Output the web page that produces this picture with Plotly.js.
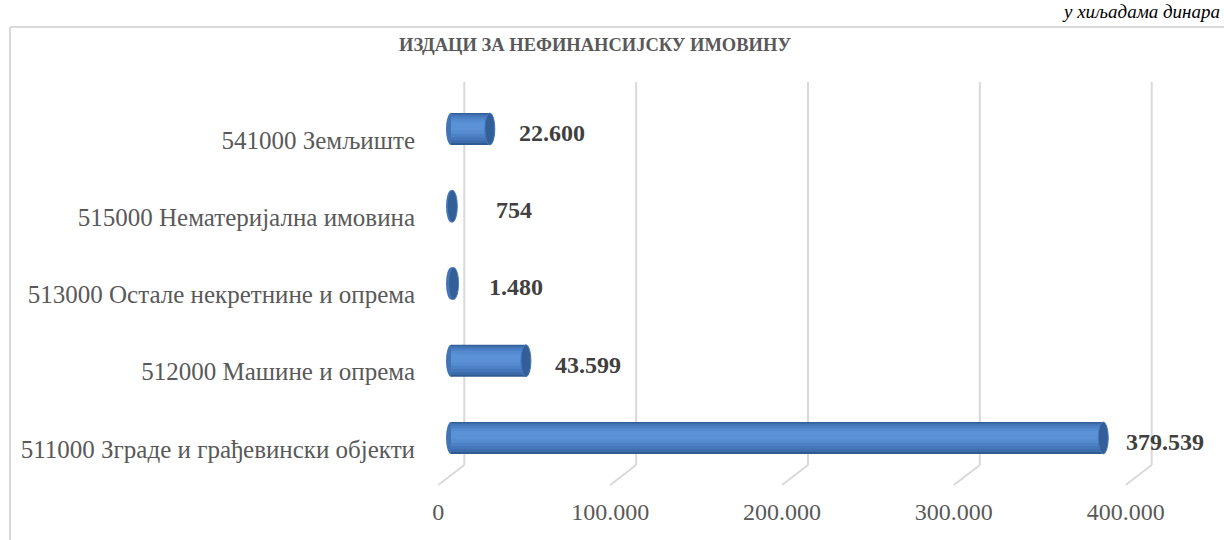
<!DOCTYPE html>
<html>
<head>
<meta charset="utf-8">
<script src="https://cdn.plot.ly/plotly-3.0.1.min.js"></script>
<style>html,body{margin:0;padding:0;background:#fff;}#chart{width:1224px;height:540px;}</style>
</head>
<body>
<div id="chart"></div>
<script>
// ---- data ----
const categories = [
  '511000 Зграде и грађевински објекти',
  '512000 Машине и опрема',
  '513000 Остале некретнине и опрема',
  '515000 Нематеријална имовина',
  '541000 Земљиште'
];
const values = [379539, 43599, 1480, 754, 22600];
const tickValues = [0, 100000, 200000, 300000, 400000];
const chartTitle = 'ИЗДАЦИ ЗА НЕФИНАНСИЈСКУ ИМОВИНУ';
const unitNote = 'у хиљадама динара';

// ---- geometry ----
const W = 1224, H = 540;
const ml = 430, mr = 44, mt = 82, mb = 75;
const pw = W - ml - mr, ph = H - mt - mb;
const zeroPx = 451, pxPer100k = 171.85;
const upp = 100000 / pxPer100k;
const xRange = [(ml - zeroPx) * upp, (W - mr - zeroPx) * upp];
const px2x = px => (px - ml) / pw;
const px2y = py => (H - mb - py) / ph;
const barW = 0.414;
const labelShiftPx = -12.7;   // perspective offset of axis labels
const gridShiftPx = 13.3;     // perspective offset of back-wall gridlines
const serif = 'Liberation Serif, Times New Roman, serif';

function fmt(v) {
  return String(v).replace(/\B(?=(\d{3})+(?!\d))/g, '.');
}

const layers = [
  {f: 1.00, c: '#305b92', off: 0},
  {f: 0.92, c: '#3c6ba9', off: 0.008},
  {f: 0.80, c: '#4576b9', off: 0.016},
  {f: 0.64, c: '#4d81c5', off: 0.024},
  {f: 0.46, c: '#558bcf', off: 0.03},
  {f: 0.26, c: '#5b91d6', off: 0.035}
];
const traces = layers.map(L => ({
  type: 'bar', orientation: 'h',
  y: categories, x: values,
  width: barW * L.f, offset: L.off - barW * L.f / 2,
  marker: {color: L.c, line: {width: 0}},
  hoverinfo: 'skip', showlegend: false
}));

const shapes = [];
// back-wall gridlines and floor diagonals
tickValues.forEach(t => {
  shapes.push({type: 'line', layer: 'below', xref: 'x', xsizemode: 'pixel', xanchor: t, x0: gridShiftPx, x1: gridShiftPx,
    yref: 'paper', y0: 0, y1: 1, line: {color: '#d9d9d9', width: 2}});
  shapes.push({type: 'line', layer: 'below', xref: 'x', xsizemode: 'pixel', xanchor: t, x0: labelShiftPx, x1: gridShiftPx,
    yref: 'paper', ysizemode: 'pixel', yanchor: 0, y0: -20, y1: 0, line: {color: '#d9d9d9', width: 2}});
});
// cylinder caps
values.forEach((v, i) => {
  shapes.push({type: 'circle', layer: 'between', xref: 'x', xsizemode: 'pixel', xanchor: 0, x0: -5, x1: 5,
    yref: 'y', y0: i - barW / 2, y1: i + barW / 2, fillcolor: '#4273b4', line: {width: 0}});
  shapes.push({type: 'circle', layer: 'above', xref: 'x', xsizemode: 'pixel', xanchor: v, x0: -5, x1: 5,
    yref: 'y', y0: i - barW / 2, y1: i + barW / 2, fillcolor: '#335f98', line: {color: '#4879ba', width: 1}});
});
// outer chart border (left and top)
shapes.push({type: 'line', xref: 'paper', yref: 'paper', x0: px2x(10), x1: px2x(1230), y0: px2y(27), y1: px2y(27), line: {color: '#d9d9d9', width: 2}});
shapes.push({type: 'line', xref: 'paper', yref: 'paper', x0: px2x(10), x1: px2x(10), y0: px2y(27), y1: px2y(545), line: {color: '#d9d9d9', width: 2}});

const annotations = values.map((v, i) => ({
  xref: 'x', yref: 'y', x: v, y: i, xshift: 62, yshift: -4,
  text: '<b>' + fmt(v) + '</b>', showarrow: false, xanchor: 'center', yanchor: 'middle',
  font: {family: serif, size: 24, color: '#404040'}
}));
annotations.push({
  xref: 'paper', yref: 'paper', x: px2x(595), y: px2y(45), text: '<b>' + chartTitle + '</b>',
  showarrow: false, xanchor: 'center', yanchor: 'middle',
  font: {family: serif, size: 18.5, color: '#595959'}
});
annotations.push({
  xref: 'paper', yref: 'paper', x: px2x(1222), y: px2y(12), text: '<i>' + unitNote + '</i>',
  showarrow: false, xanchor: 'right', yanchor: 'middle',
  font: {family: serif, size: 19, color: '#000000'}
});

const layout = {
  width: W, height: H,
  margin: {l: ml, r: mr, t: mt, b: mb, pad: 0},
  paper_bgcolor: '#ffffff', plot_bgcolor: 'rgba(0,0,0,0)',
  barmode: 'overlay',
  separators: ',.',
  showlegend: false,
  xaxis: {
    range: xRange, showgrid: false, zeroline: false, showline: false,
    tickmode: 'array', tickvals: tickValues.map(t => t + labelShiftPx * upp), ticktext: tickValues.map(fmt),
    ticks: '', ticklabelstandoff: 30,
    tickfont: {family: serif, size: 24, color: '#595959'},
    fixedrange: true
  },
  yaxis: {
    type: 'category', range: [-0.35, 4.608], showgrid: false, zeroline: false, showline: false,
    ticks: '', ticklabelstandoff: 14, ticklabelshift: 11,
    tickfont: {family: serif, size: 25, color: '#595959'},
    fixedrange: true
  },
  shapes: shapes,
  annotations: annotations
};

Plotly.newPlot('chart', traces, layout, {displayModeBar: false, staticPlot: true});
</script>
</body>
</html>
